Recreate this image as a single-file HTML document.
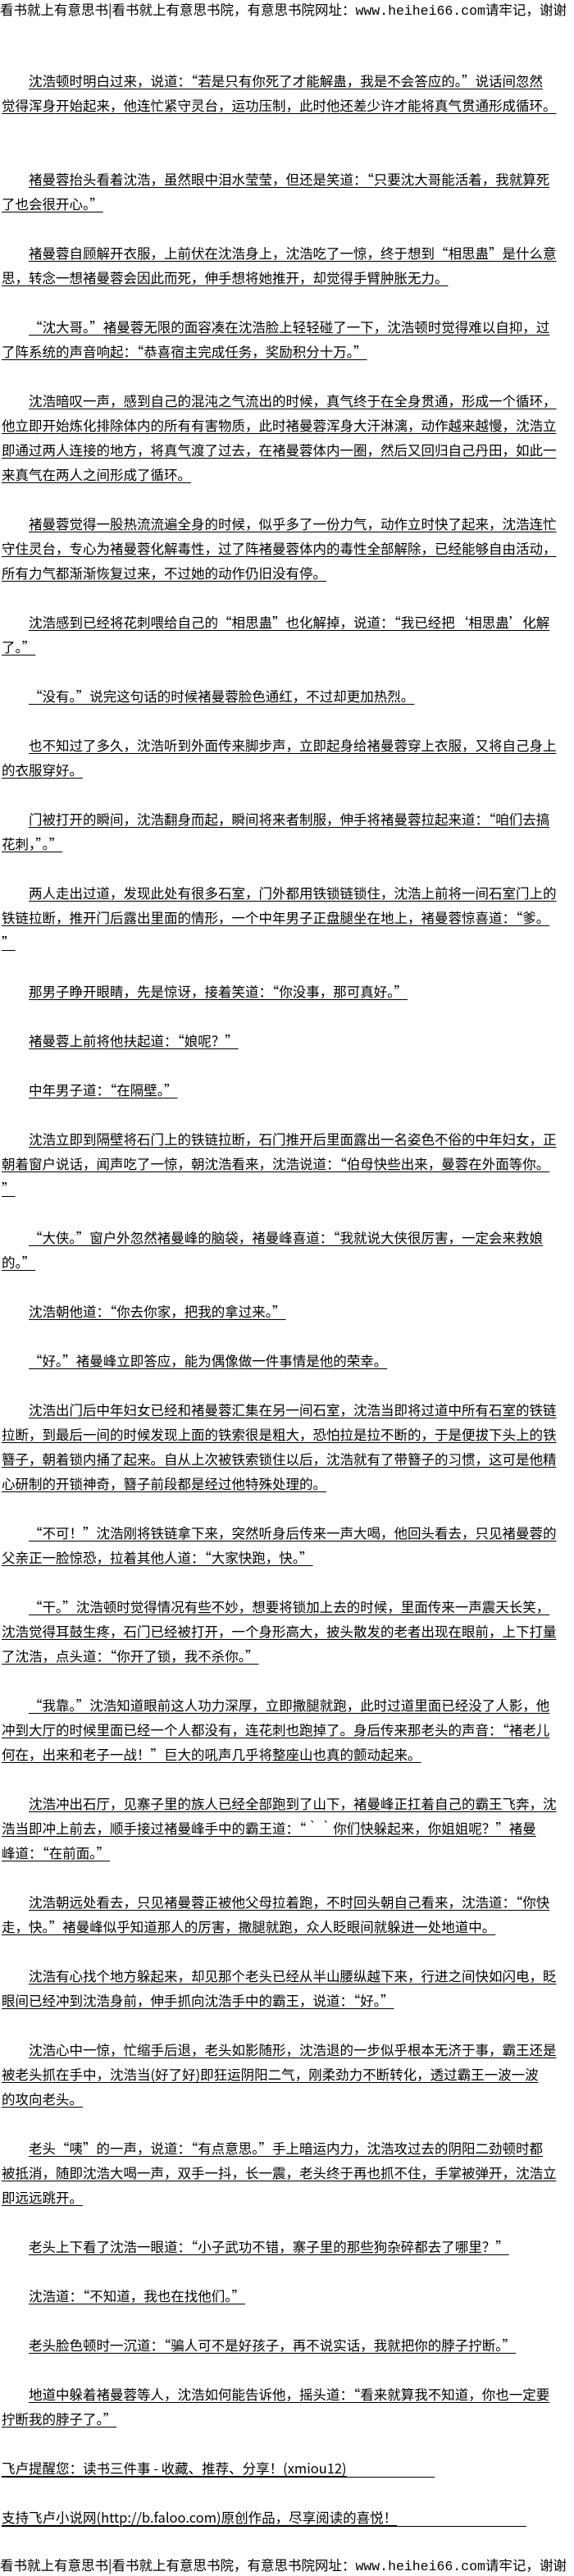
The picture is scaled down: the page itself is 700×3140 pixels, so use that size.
<!DOCTYPE html>
<html><head><meta charset="utf-8">
<style>
html,body{margin:0;padding:0;background:#fff;}
body{width:700px;height:3140px;position:relative;overflow:hidden;color:#000;
font-family:"WenQuanYi Zen Hei","Noto Sans CJK SC",sans-serif;}
.hdr{position:absolute;left:0;white-space:nowrap;font-size:16.5px;line-height:22px;font-family:"WenQuanYi Zen Hei","Noto Sans CJK SC",sans-serif;}
#main{position:absolute;left:0;top:83px;width:700px;font-size:16.5px;line-height:30px;}
.p{margin-bottom:30px;}
.p div{white-space:nowrap;padding-left:2px;height:30px;}
.p div span{text-decoration:underline;text-underline-offset:3px;}
.p div.f{padding-left:35px;}
.ft span{display:inline-block;border-bottom:1px solid #000;line-height:22px;}
</style></head><body>
<div class="hdr" style="top:0">看书就上有意思书|看书就上有意思书院，有意思书院网址：<span style="font-family:'Liberation Mono',monospace">www.heihei66.com</span>请牢记，谢谢</div>
<div id="main">
<div class="p" style="margin-bottom:60px"><div class="f"><span>沈浩顿时明白过来，说道：“若是只有你死了才能解蛊，我是不会答应的。”说话间忽然</span></div><div><span>觉得浑身开始起来，他连忙紧守灵台，运功压制，此时他还差少许才能将真气贯通形成循环。</span></div></div>
<div class="p"><div class="f"><span>褚曼蓉抬头看着沈浩，虽然眼中泪水莹莹，但还是笑道：“只要沈大哥能活着，我就算死</span></div><div><span>了也会很开心。”</span></div></div>
<div class="p"><div class="f"><span>褚曼蓉自顾解开衣服，上前伏在沈浩身上，沈浩吃了一惊，终于想到“相思蛊”是什么意</span></div><div><span>思，转念一想褚曼蓉会因此而死，伸手想将她推开，却觉得手臂肿胀无力。</span></div></div>
<div class="p"><div class="f"><span>“沈大哥。”褚曼蓉无限的面容凑在沈浩脸上轻轻碰了一下，沈浩顿时觉得难以自抑，过</span></div><div><span>了阵系统的声音响起：“恭喜宿主完成任务，奖励积分十万。”</span></div></div>
<div class="p"><div class="f"><span>沈浩暗叹一声，感到自己的混沌之气流出的时候，真气终于在全身贯通，形成一个循环，</span></div><div><span>他立即开始炼化排除体内的所有有害物质，此时褚曼蓉浑身大汗淋漓，动作越来越慢，沈浩立</span></div><div><span>即通过两人连接的地方，将真气渡了过去，在褚曼蓉体内一圈，然后又回归自己丹田，如此一</span></div><div><span>来真气在两人之间形成了循环。</span></div></div>
<div class="p"><div class="f"><span>褚曼蓉觉得一股热流流遍全身的时候，似乎多了一份力气，动作立时快了起来，沈浩连忙</span></div><div><span>守住灵台，专心为褚曼蓉化解毒性，过了阵褚曼蓉体内的毒性全部解除，已经能够自由活动，</span></div><div><span>所有力气都渐渐恢复过来，不过她的动作仍旧没有停。</span></div></div>
<div class="p"><div class="f"><span>沈浩感到已经将花刺喂给自己的“相思蛊”也化解掉，说道：“我已经把‘相思蛊’化解</span></div><div><span>了。”</span></div></div>
<div class="p"><div class="f"><span>“没有。”说完这句话的时候褚曼蓉脸色通红，不过却更加热烈。</span></div></div>
<div class="p"><div class="f"><span>也不知过了多久，沈浩听到外面传来脚步声，立即起身给褚曼蓉穿上衣服，又将自己身上</span></div><div><span>的衣服穿好。</span></div></div>
<div class="p"><div class="f"><span>门被打开的瞬间，沈浩翻身而起，瞬间将来者制服，伸手将褚曼蓉拉起来道：“咱们去搞</span></div><div><span>花刺，”。”</span></div></div>
<div class="p"><div class="f"><span>两人走出过道，发现此处有很多石室，门外都用铁锁链锁住，沈浩上前将一间石室门上的</span></div><div><span>铁链拉断，推开门后露出里面的情形，一个中年男子正盘腿坐在地上，褚曼蓉惊喜道：“爹。</span></div><div><span>”</span></div></div>
<div class="p"><div class="f"><span>那男子睁开眼睛，先是惊讶，接着笑道：“你没事，那可真好。”</span></div></div>
<div class="p"><div class="f"><span>褚曼蓉上前将他扶起道：“娘呢？”</span></div></div>
<div class="p"><div class="f"><span>中年男子道：“在隔壁。”</span></div></div>
<div class="p"><div class="f"><span>沈浩立即到隔壁将石门上的铁链拉断，石门推开后里面露出一名姿色不俗的中年妇女，正</span></div><div><span>朝着窗户说话，闻声吃了一惊，朝沈浩看来，沈浩说道：“伯母快些出来，曼蓉在外面等你。</span></div><div><span>”</span></div></div>
<div class="p"><div class="f"><span>“大侠。”窗户外忽然褚曼峰的脑袋，褚曼峰喜道：“我就说大侠很厉害，一定会来救娘</span></div><div><span>的。”</span></div></div>
<div class="p"><div class="f"><span>沈浩朝他道：“你去你家，把我的拿过来。”</span></div></div>
<div class="p"><div class="f"><span>“好。”褚曼峰立即答应，能为偶像做一件事情是他的荣幸。</span></div></div>
<div class="p"><div class="f"><span>沈浩出门后中年妇女已经和褚曼蓉汇集在另一间石室，沈浩当即将过道中所有石室的铁链</span></div><div><span>拉断，到最后一间的时候发现上面的铁索很是粗大，恐怕拉是拉不断的，于是便拔下头上的铁</span></div><div><span>簪子，朝着锁内捅了起来。自从上次被铁索锁住以后，沈浩就有了带簪子的习惯，这可是他精</span></div><div><span>心研制的开锁神奇，簪子前段都是经过他特殊处理的。</span></div></div>
<div class="p"><div class="f"><span>“不可！”沈浩刚将铁链拿下来，突然听身后传来一声大喝，他回头看去，只见褚曼蓉的</span></div><div><span>父亲正一脸惊恐，拉着其他人道：“大家快跑，快。”</span></div></div>
<div class="p"><div class="f"><span>“干。”沈浩顿时觉得情况有些不妙，想要将锁加上去的时候，里面传来一声震天长笑，</span></div><div><span>沈浩觉得耳鼓生疼，石门已经被打开，一个身形高大，披头散发的老者出现在眼前，上下打量</span></div><div><span>了沈浩，点头道：“你开了锁，我不杀你。”</span></div></div>
<div class="p"><div class="f"><span>“我靠。”沈浩知道眼前这人功力深厚，立即撒腿就跑，此时过道里面已经没了人影，他</span></div><div><span>冲到大厅的时候里面已经一个人都没有，连花刺也跑掉了。身后传来那老头的声音：“褚老儿</span></div><div><span>何在，出来和老子一战！”巨大的吼声几乎将整座山也真的颤动起来。</span></div></div>
<div class="p"><div class="f"><span>沈浩冲出石厅，见寨子里的族人已经全部跑到了山下，褚曼峰正扛着自己的霸王飞奔，沈</span></div><div><span>浩当即冲上前去，顺手接过褚曼峰手中的霸王道：“｀｀你们快躲起来，你姐姐呢？”褚曼</span></div><div><span>峰道：“在前面。”</span></div></div>
<div class="p"><div class="f"><span>沈浩朝远处看去，只见褚曼蓉正被他父母拉着跑，不时回头朝自己看来，沈浩道：“你快</span></div><div><span>走，快。”褚曼峰似乎知道那人的厉害，撒腿就跑，众人眨眼间就躲进一处地道中。</span></div></div>
<div class="p"><div class="f"><span>沈浩有心找个地方躲起来，却见那个老头已经从半山腰纵越下来，行进之间快如闪电，眨</span></div><div><span>眼间已经冲到沈浩身前，伸手抓向沈浩手中的霸王，说道：“好。”</span></div></div>
<div class="p"><div class="f"><span>沈浩心中一惊，忙缩手后退，老头如影随形，沈浩退的一步似乎根本无济于事，霸王还是</span></div><div><span>被老头抓在手中，沈浩当(好了好)即狂运阴阳二气，刚柔劲力不断转化，透过霸王一波一波</span></div><div><span>的攻向老头。</span></div></div>
<div class="p"><div class="f"><span>老头“咦”的一声，说道：“有点意思。”手上暗运内力，沈浩攻过去的阴阳二劲顿时都</span></div><div><span>被抵消，随即沈浩大喝一声，双手一抖，长一震，老头终于再也抓不住，手掌被弹开，沈浩立</span></div><div><span>即远远跳开。</span></div></div>
<div class="p"><div class="f"><span>老头上下看了沈浩一眼道：“小子武功不错，寨子里的那些狗杂碎都去了哪里？”</span></div></div>
<div class="p"><div class="f"><span>沈浩道：“不知道，我也在找他们。”</span></div></div>
<div class="p"><div class="f"><span>老头脸色顿时一沉道：“骗人可不是好孩子，再不说实话，我就把你的脖子拧断。”</span></div></div>
<div class="p"><div class="f"><span>地道中躲着褚曼蓉等人，沈浩如何能告诉他，摇头道：“看来就算我不知道，你也一定要</span></div><div><span>拧断我的脖子了。”</span></div></div>
<div class="p ft"><div><span style="width:528px">飞卢提醒您：读书三件事 - 收藏、推荐、分享！(xmiou12)</span></div></div>
<div class="p ft"><div><span style="width:640px">支持飞卢小说网(http://b.faloo.com)原创作品，尽享阅读的喜悦！</span></div></div>
</div>
<div class="hdr" style="top:3115px">看书就上有意思书|看书就上有意思书院，有意思书院网址：<span style="font-family:'Liberation Mono',monospace">www.heihei66.com</span>请牢记，谢谢</div>
</body></html>
